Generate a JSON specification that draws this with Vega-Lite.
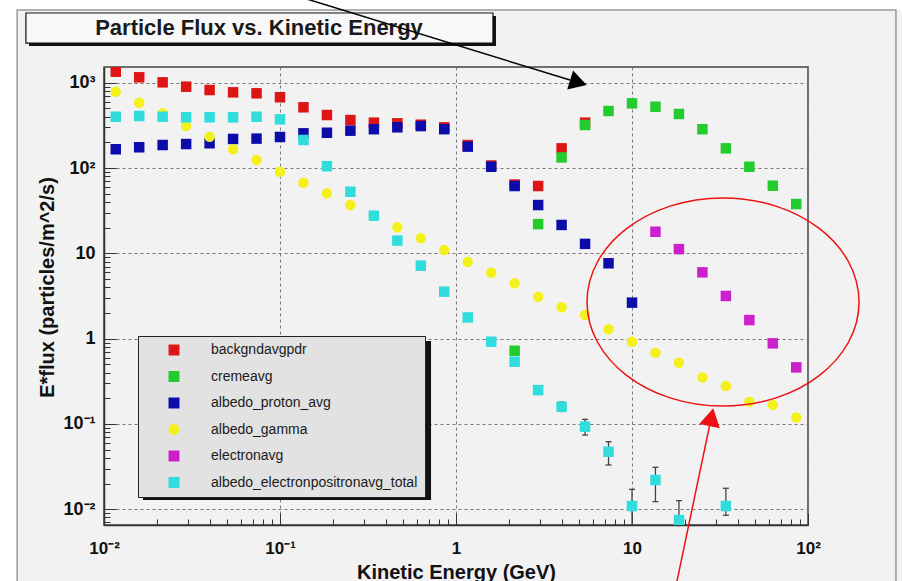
{
  "$schema": "https://vega.github.io/schema/vega-lite/v6.json",
  "width": 704,
  "height": 458,
  "autosize": {"type": "none"},
  "padding": {"left": 104, "top": 67, "right": 94, "bottom": 56},
  "background": "#f2f2f2",
  "config": {"view": {"stroke": "#444", "strokeWidth": 1.5}, "font": "Liberation Sans"},
  "datasets": {
    "flux": [
      {"s": "backgndavgpdr", "E": 0.01166, "f": 1345},
      {"s": "backgndavgpdr", "E": 0.01585, "f": 1157},
      {"s": "backgndavgpdr", "E": 0.02154, "f": 1010},
      {"s": "backgndavgpdr", "E": 0.02929, "f": 898},
      {"s": "backgndavgpdr", "E": 0.03981, "f": 821},
      {"s": "backgndavgpdr", "E": 0.05412, "f": 771},
      {"s": "backgndavgpdr", "E": 0.07356, "f": 751},
      {"s": "backgndavgpdr", "E": 0.1, "f": 675},
      {"s": "backgndavgpdr", "E": 0.1359, "f": 515},
      {"s": "backgndavgpdr", "E": 0.1848, "f": 418},
      {"s": "backgndavgpdr", "E": 0.2512, "f": 365},
      {"s": "backgndavgpdr", "E": 0.3415, "f": 340},
      {"s": "backgndavgpdr", "E": 0.4642, "f": 334},
      {"s": "backgndavgpdr", "E": 0.631, "f": 322},
      {"s": "backgndavgpdr", "E": 0.8577, "f": 300},
      {"s": "backgndavgpdr", "E": 1.166, "f": 186},
      {"s": "backgndavgpdr", "E": 1.585, "f": 107},
      {"s": "backgndavgpdr", "E": 2.154, "f": 64},
      {"s": "backgndavgpdr", "E": 2.929, "f": 61.5},
      {"s": "backgndavgpdr", "E": 3.981, "f": 170},
      {"s": "backgndavgpdr", "E": 5.412, "f": 340},
      {"s": "cremeavg", "E": 2.154, "f": 0.72},
      {"s": "cremeavg", "E": 2.929, "f": 22},
      {"s": "cremeavg", "E": 3.981, "f": 133},
      {"s": "cremeavg", "E": 5.412, "f": 319},
      {"s": "cremeavg", "E": 7.356, "f": 466},
      {"s": "cremeavg", "E": 10, "f": 573},
      {"s": "cremeavg", "E": 13.59, "f": 523},
      {"s": "cremeavg", "E": 18.48, "f": 430},
      {"s": "cremeavg", "E": 25.12, "f": 285},
      {"s": "cremeavg", "E": 34.15, "f": 170},
      {"s": "cremeavg", "E": 46.42, "f": 103.5},
      {"s": "cremeavg", "E": 63.1, "f": 62},
      {"s": "cremeavg", "E": 85.77, "f": 37.8},
      {"s": "albedo_proton_avg", "E": 0.01166, "f": 166},
      {"s": "albedo_proton_avg", "E": 0.01585, "f": 175},
      {"s": "albedo_proton_avg", "E": 0.02154, "f": 186},
      {"s": "albedo_proton_avg", "E": 0.02929, "f": 191},
      {"s": "albedo_proton_avg", "E": 0.03981, "f": 195},
      {"s": "albedo_proton_avg", "E": 0.05412, "f": 219},
      {"s": "albedo_proton_avg", "E": 0.07356, "f": 221},
      {"s": "albedo_proton_avg", "E": 0.1, "f": 231},
      {"s": "albedo_proton_avg", "E": 0.1359, "f": 255},
      {"s": "albedo_proton_avg", "E": 0.1848, "f": 259},
      {"s": "albedo_proton_avg", "E": 0.2512, "f": 274},
      {"s": "albedo_proton_avg", "E": 0.3415, "f": 285},
      {"s": "albedo_proton_avg", "E": 0.4642, "f": 300},
      {"s": "albedo_proton_avg", "E": 0.631, "f": 310},
      {"s": "albedo_proton_avg", "E": 0.8577, "f": 285},
      {"s": "albedo_proton_avg", "E": 1.166, "f": 178},
      {"s": "albedo_proton_avg", "E": 1.585, "f": 103.5},
      {"s": "albedo_proton_avg", "E": 2.154, "f": 61.5},
      {"s": "albedo_proton_avg", "E": 2.929, "f": 36.8},
      {"s": "albedo_proton_avg", "E": 3.981, "f": 21.5},
      {"s": "albedo_proton_avg", "E": 5.412, "f": 12.9},
      {"s": "albedo_proton_avg", "E": 7.356, "f": 7.64},
      {"s": "albedo_proton_avg", "E": 10, "f": 2.64},
      {"s": "albedo_gamma", "E": 0.01166, "f": 783},
      {"s": "albedo_gamma", "E": 0.01585, "f": 583},
      {"s": "albedo_gamma", "E": 0.02154, "f": 438},
      {"s": "albedo_gamma", "E": 0.02929, "f": 310},
      {"s": "albedo_gamma", "E": 0.03981, "f": 233},
      {"s": "albedo_gamma", "E": 0.05412, "f": 166},
      {"s": "albedo_gamma", "E": 0.07356, "f": 124},
      {"s": "albedo_gamma", "E": 0.1, "f": 90.5},
      {"s": "albedo_gamma", "E": 0.1359, "f": 67.3},
      {"s": "albedo_gamma", "E": 0.1848, "f": 50.5},
      {"s": "albedo_gamma", "E": 0.2512, "f": 36.8},
      {"s": "albedo_gamma", "E": 0.3415, "f": 27.5},
      {"s": "albedo_gamma", "E": 0.4642, "f": 20.2},
      {"s": "albedo_gamma", "E": 0.631, "f": 15.0},
      {"s": "albedo_gamma", "E": 0.8577, "f": 10.9},
      {"s": "albedo_gamma", "E": 1.166, "f": 7.9},
      {"s": "albedo_gamma", "E": 1.585, "f": 5.93},
      {"s": "albedo_gamma", "E": 2.154, "f": 4.45},
      {"s": "albedo_gamma", "E": 2.929, "f": 3.10},
      {"s": "albedo_gamma", "E": 3.981, "f": 2.33},
      {"s": "albedo_gamma", "E": 5.412, "f": 1.89},
      {"s": "albedo_gamma", "E": 7.356, "f": 1.29},
      {"s": "albedo_gamma", "E": 10, "f": 0.92},
      {"s": "albedo_gamma", "E": 13.59, "f": 0.684},
      {"s": "albedo_gamma", "E": 18.48, "f": 0.522},
      {"s": "albedo_gamma", "E": 25.12, "f": 0.351},
      {"s": "albedo_gamma", "E": 34.15, "f": 0.278},
      {"s": "albedo_gamma", "E": 46.42, "f": 0.182},
      {"s": "albedo_gamma", "E": 63.1, "f": 0.167},
      {"s": "albedo_gamma", "E": 85.77, "f": 0.119},
      {"s": "electronavg", "E": 13.59, "f": 17.9},
      {"s": "electronavg", "E": 18.48, "f": 11.2},
      {"s": "electronavg", "E": 25.12, "f": 5.98},
      {"s": "electronavg", "E": 34.15, "f": 3.16},
      {"s": "electronavg", "E": 46.42, "f": 1.65},
      {"s": "electronavg", "E": 63.1, "f": 0.88},
      {"s": "electronavg", "E": 85.77, "f": 0.46},
      {"s": "albedo_electronpositronavg_total", "E": 0.01166, "f": 399},
      {"s": "albedo_electronpositronavg_total", "E": 0.01585, "f": 407},
      {"s": "albedo_electronpositronavg_total", "E": 0.02154, "f": 399},
      {"s": "albedo_electronpositronavg_total", "E": 0.02929, "f": 393},
      {"s": "albedo_electronpositronavg_total", "E": 0.03981, "f": 393},
      {"s": "albedo_electronpositronavg_total", "E": 0.05412, "f": 393},
      {"s": "albedo_electronpositronavg_total", "E": 0.07356, "f": 399},
      {"s": "albedo_electronpositronavg_total", "E": 0.1, "f": 372},
      {"s": "albedo_electronpositronavg_total", "E": 0.1359, "f": 213},
      {"s": "albedo_electronpositronavg_total", "E": 0.1848, "f": 105},
      {"s": "albedo_electronpositronavg_total", "E": 0.2512, "f": 52.7},
      {"s": "albedo_electronpositronavg_total", "E": 0.3415, "f": 27.6},
      {"s": "albedo_electronpositronavg_total", "E": 0.4642, "f": 14.1},
      {"s": "albedo_electronpositronavg_total", "E": 0.631, "f": 7.16},
      {"s": "albedo_electronpositronavg_total", "E": 0.8577, "f": 3.55},
      {"s": "albedo_electronpositronavg_total", "E": 1.166, "f": 1.77},
      {"s": "albedo_electronpositronavg_total", "E": 1.585, "f": 0.92},
      {"s": "albedo_electronpositronavg_total", "E": 2.154, "f": 0.536},
      {"s": "albedo_electronpositronavg_total", "E": 2.929, "f": 0.249},
      {"s": "albedo_electronpositronavg_total", "E": 3.981, "f": 0.159},
      {"s": "albedo_electronpositronavg_total", "E": 5.412, "f": 0.0927},
      {"s": "albedo_electronpositronavg_total", "E": 7.356, "f": 0.0472},
      {"s": "albedo_electronpositronavg_total", "E": 10, "f": 0.0109},
      {"s": "albedo_electronpositronavg_total", "E": 13.59, "f": 0.022},
      {"s": "albedo_electronpositronavg_total", "E": 18.48, "f": 0.00746},
      {"s": "albedo_electronpositronavg_total", "E": 34.15, "f": 0.0109}
    ],
    "err": [
      {"E": 3.981, "lo": 0.14, "hi": 0.18},
      {"E": 5.412, "lo": 0.0741, "hi": 0.113},
      {"E": 7.356, "lo": 0.033, "hi": 0.0618},
      {"E": 10, "lo": 0.001, "hi": 0.0171},
      {"E": 13.59, "lo": 0.01225, "hi": 0.031},
      {"E": 18.48, "lo": 0.001, "hi": 0.0126},
      {"E": 34.15, "lo": 0.0085, "hi": 0.0176}
    ]
  },
  "layer": [
    {
      "data": {"values": [{}]},
      "mark": {"type": "rect", "fill": "#ffffff"},
      "encoding": {
        "x": {"datum": 0.001, "type": "quantitative"}, "x2": {"datum": 0.00321},
        "y": {"datum": 0.0001, "type": "quantitative"}, "y2": {"datum": 100000}
      }
    },
    {
      "data": {"values": [{}]},
      "mark": {"type": "rect", "fill": "#ffffff"},
      "encoding": {
        "x": {"datum": 0.001, "type": "quantitative"}, "x2": {"datum": 1000},
        "y": {"datum": 7115, "type": "quantitative"}, "y2": {"datum": 100000}
      }
    },
    {
      "data": {"values": [{}]},
      "mark": {"type": "rect", "fillOpacity": 0, "stroke": "#999999", "strokeWidth": 1.5},
      "encoding": {
        "x": {"datum": 0.00321, "type": "quantitative"}, "x2": {"datum": 316},
        "y": {"datum": 0.0005, "type": "quantitative"}, "y2": {"datum": 7115}
      }
    },
    {
      "data": {"values": [{}]},
      "mark": {"type": "rect", "fill": "#111111"},
      "encoding": {
        "x": {"datum": 0.00375, "type": "quantitative"}, "x2": {"datum": 1.687},
        "y": {"datum": 2692, "type": "quantitative"}, "y2": {"datum": 6050}
      }
    },
    {
      "data": {"values": [{}]},
      "mark": {"type": "rect", "fill": "#f8f8f8", "stroke": "#111111", "strokeWidth": 1.2},
      "encoding": {
        "x": {"datum": 0.0036, "type": "quantitative"}, "x2": {"datum": 1.622},
        "y": {"datum": 2918, "type": "quantitative"}, "y2": {"datum": 6561}
      }
    },
    {
      "data": {"values": [{}]},
      "mark": {"type": "text", "text": "Particle Flux vs. Kinetic Energy", "font": "Liberation Sans", "fontSize": 22, "fontWeight": "bold", "color": "#1a1a1a", "align": "center", "baseline": "middle"},
      "encoding": {
        "x": {"datum": 0.076, "type": "quantitative"},
        "y": {"datum": 4375, "type": "quantitative"}
      }
    },
    {
      "data": {"values": [{}]},
      "mark": {"type": "rect", "fill": "#111111"},
      "encoding": {
        "x": {"datum": 0.01666, "type": "quantitative"}, "x2": {"datum": 0.7213},
        "y": {"datum": 0.01282, "type": "quantitative"}, "y2": {"datum": 0.9372}
      }
    },
    {
      "data": {"name": "err"},
      "mark": {"type": "rule", "color": "#444444", "strokeWidth": 1.3, "clip": true},
      "encoding": {
        "x": {"field": "E", "type": "quantitative"},
        "y": {"field": "lo", "type": "quantitative"},
        "y2": {"field": "hi"}
      }
    },
    {
      "data": {"name": "err"},
      "mark": {"type": "point", "shape": "stroke", "size": 36, "filled": false, "stroke": "#444444", "strokeWidth": 1.3, "opacity": 1, "clip": true},
      "encoding": {
        "x": {"field": "E", "type": "quantitative"},
        "y": {"field": "hi", "type": "quantitative"}
      }
    },
    {
      "data": {"name": "err"},
      "mark": {"type": "point", "shape": "stroke", "size": 36, "filled": false, "stroke": "#444444", "strokeWidth": 1.3, "opacity": 1, "clip": true},
      "encoding": {
        "x": {"field": "E", "type": "quantitative"},
        "y": {"field": "lo", "type": "quantitative"}
      }
    },
    {
      "data": {"name": "flux"},
      "mark": {"type": "point", "filled": true, "size": 110, "opacity": 1, "clip": true},
      "encoding": {
        "x": {
          "field": "E", "type": "quantitative",
          "scale": {"type": "log", "domain": [0.01, 100], "nice": false},
          "axis": {
            "values": [0.01,0.02,0.03,0.04,0.05,0.06,0.07,0.08,0.09,0.1,0.2,0.3,0.4,0.5,0.6,0.7,0.8,0.9,1,2,3,4,5,6,7,8,9,10,20,30,40,50,60,70,80,90,100],
            "labelExpr": "datum.value == 0.01 ? '10⁻²' : datum.value == 0.1 ? '10⁻¹' : datum.value == 1 ? '1' : datum.value == 10 ? '10' : datum.value == 100 ? '10²' : ''",
            "title": "Kinetic Energy (GeV)",
            "titleFont": "Liberation Sans", "titleFontSize": 20, "titleFontWeight": "bold", "titleColor": "#111111",
            "titleX": 352, "titleY": 47, "titleBaseline": "middle", "titleAlign": "center",
            "labelFont": "Liberation Sans", "labelFontSize": 17, "labelFontWeight": "bold", "labelColor": "#111111",
            "labelPadding": 27, "labelFlush": false, "labelOverlap": false, "labelBaseline": "top",
            "tickSize": {"condition": {"test": "abs(log(datum.value)/LN10 - round(log(datum.value)/LN10)) < 0.001", "value": -12}, "value": -6},
            "tickColor": "#333333", "tickWidth": 1,
            "grid": true, "gridColor": "#777777", "gridDash": [3, 3], "gridWidth": 1,
            "gridOpacity": {"condition": {"test": "abs(log(datum.value)/LN10 - round(log(datum.value)/LN10)) < 0.001", "value": 1}, "value": 0},
            "domainColor": "#333333", "domainWidth": 1.5
          }
        },
        "y": {
          "field": "f", "type": "quantitative",
          "scale": {"type": "log", "domain": [0.00653, 1528], "nice": false},
          "axis": {
            "values": [0.007,0.008,0.009,0.01,0.02,0.03,0.04,0.05,0.06,0.07,0.08,0.09,0.1,0.2,0.3,0.4,0.5,0.6,0.7,0.8,0.9,1,2,3,4,5,6,7,8,9,10,20,30,40,50,60,70,80,90,100,200,300,400,500,600,700,800,900,1000],
            "labelExpr": "datum.value == 0.01 ? '10⁻²' : datum.value == 0.1 ? '10⁻¹' : datum.value == 1 ? '1' : datum.value == 10 ? '10' : datum.value == 100 ? '10²' : datum.value == 1000 ? '10³' : ''",
            "title": "E*flux (particles/m^2/s)",
            "titleFont": "Liberation Sans", "titleFontSize": 20, "titleFontWeight": "bold", "titleColor": "#111111",
            "titleX": -57, "titleY": 220, "titleAngle": -90, "titleBaseline": "middle", "titleAlign": "center",
            "labelFont": "Liberation Sans", "labelFontSize": 18, "labelFontWeight": "bold", "labelColor": "#111111",
            "labelPadding": 21, "labelFlush": false, "labelOverlap": false, "labelAlign": "right", "labelBaseline": "middle",
            "tickSize": {"condition": {"test": "abs(log(datum.value)/LN10 - round(log(datum.value)/LN10)) < 0.001", "value": -12}, "value": -6},
            "tickColor": "#333333", "tickWidth": 1,
            "grid": true, "gridColor": "#777777", "gridDash": [3, 3], "gridWidth": 1,
            "gridOpacity": {"condition": {"test": "abs(log(datum.value)/LN10 - round(log(datum.value)/LN10)) < 0.001", "value": 1}, "value": 0},
            "domainColor": "#333333", "domainWidth": 1.5
          }
        },
        "color": {
          "field": "s", "type": "nominal",
          "scale": {
            "domain": ["backgndavgpdr", "cremeavg", "albedo_proton_avg", "albedo_gamma", "electronavg", "albedo_electronpositronavg_total"],
            "range": ["#dd1515", "#22cc2c", "#0c0caa", "#f4f01c", "#cc20cc", "#30dcdc"]
          },
          "legend": {
            "title": null, "orient": "none", "legendX": 34, "legendY": 269,
            "fillColor": "#e2e2e2", "strokeColor": "#222222", "padding": 7,
            "symbolOffset": 22, "labelOffset": 30, "rowPadding": 12.5,
            "labelFont": "Liberation Sans", "labelFontSize": 14, "labelColor": "#1a1a1a", "labelLimit": 400,
            "symbolSize": 120
          }
        },
        "shape": {
          "field": "s", "type": "nominal",
          "scale": {
            "domain": ["backgndavgpdr", "cremeavg", "albedo_proton_avg", "albedo_gamma", "electronavg", "albedo_electronpositronavg_total"],
            "range": ["square", "square", "square", "circle", "square", "square"]
          },
          "legend": {
            "title": null, "orient": "none", "legendX": 34, "legendY": 269,
            "fillColor": "#e2e2e2", "strokeColor": "#222222", "padding": 7,
            "symbolOffset": 22, "labelOffset": 30, "rowPadding": 12.5,
            "labelFont": "Liberation Sans", "labelFontSize": 14, "labelColor": "#1a1a1a", "labelLimit": 400,
            "symbolSize": 120
          }
        }
      }
    },
    {
      "data": {"values": [{}]},
      "mark": {"type": "point", "shape": "M 1 0 C 1 0.4225 0.5523 0.765 0 0.765 C -0.5523 0.765 -1 0.4225 -1 0 C -1 -0.4225 -0.5523 -0.765 0 -0.765 C 0.5523 -0.765 1 -0.4225 1 0 Z", "size": 73984, "filled": false, "stroke": "#ee1111", "strokeWidth": 1.5, "opacity": 1},
      "encoding": {
        "x": {"datum": 32.9, "type": "quantitative"},
        "y": {"datum": 2.686, "type": "quantitative"}
      }
    },
    {
      "data": {"values": [{}]},
      "mark": {"type": "rule", "color": "#ee1111", "strokeWidth": 1.5},
      "encoding": {
        "x": {"datum": 17.1, "type": "quantitative"}, "x2": {"datum": 27.55},
        "y": {"datum": 0.00086, "type": "quantitative"}, "y2": {"datum": 0.0942}
      }
    },
    {
      "data": {"values": [{}]},
      "mark": {"type": "point", "shape": "triangle-up", "size": 441, "angle": 11.8, "filled": true, "color": "#ee1111", "opacity": 1},
      "encoding": {
        "x": {"datum": 28.26, "type": "quantitative"},
        "y": {"datum": 0.1198, "type": "quantitative"}
      }
    },
    {
      "data": {"values": [{}]},
      "mark": {"type": "rule", "color": "#000000", "strokeWidth": 1.5},
      "encoding": {
        "x": {"datum": 0.09678, "type": "quantitative"}, "x2": {"datum": 4.443},
        "y": {"datum": 12213, "type": "quantitative"}, "y2": {"datum": 1075.6}
      }
    },
    {
      "data": {"values": [{}]},
      "mark": {"type": "point", "shape": "triangle-right", "size": 400, "angle": 17.1, "filled": true, "color": "#000000", "opacity": 1},
      "encoding": {
        "x": {"datum": 4.962, "type": "quantitative"},
        "y": {"datum": 1005, "type": "quantitative"}
      }
    }
  ]
}
